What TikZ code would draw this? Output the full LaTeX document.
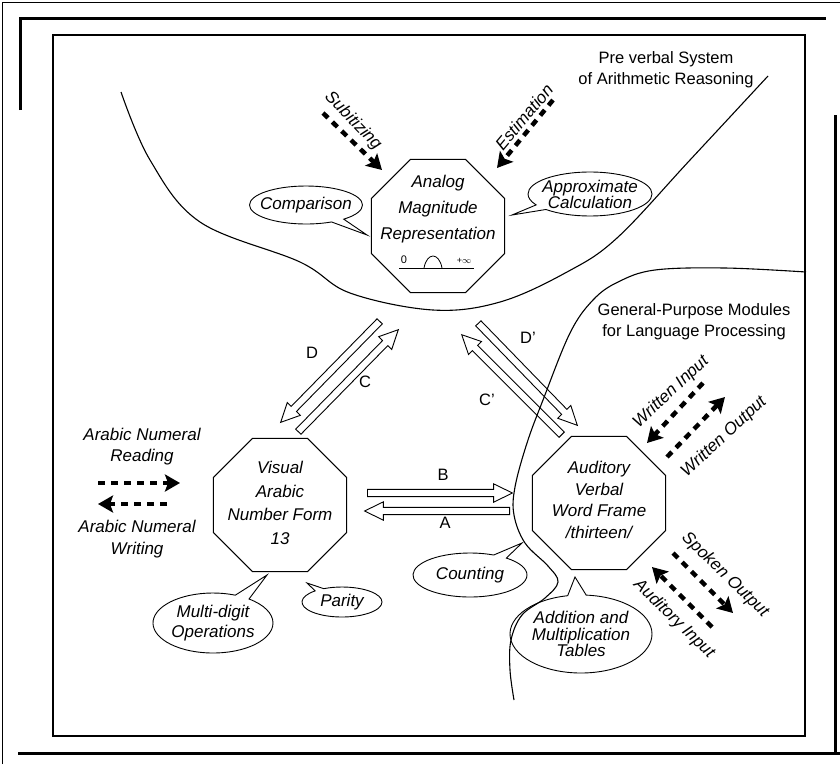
\documentclass[tikz,border=0pt]{standalone}
\usepackage{fontspec}
\setmainfont{Liberation Sans}
\usetikzlibrary{shapes.geometric,shapes.arrows,shapes.callouts,arrows.meta,calc}
\tikzset{
  module/.style={regular polygon,regular polygon sides=8,draw,line width=1pt,minimum size=144pt,inner sep=0pt},
  bubble/.style={ellipse callout,draw,line width=0.9pt,inner sep=0pt},
  lbl/.style={font=\fontsize{17}{21}\selectfont\itshape,align=center,inner sep=0pt},
  tag/.style={font=\fontsize{16.5}{21}\selectfont,align=center,inner sep=0pt},
  route/.style={dash pattern=on 7pt off 6pt,line width=4.5pt,-{Stealth[length=15pt,width=17pt,inset=3pt]}},
  harrow/.style={single arrow,draw,line width=0.9pt,inner xsep=0pt,inner ysep=3.2pt,minimum width=0pt,single arrow head extend=5.5pt,single arrow tip angle=52,single arrow head indent=0pt},
  boundary/.style={line width=1.1pt}
}
\newcommand\hollow[3]{\path let \p1=(#1),\p2=(#2),\n1={atan2(\y2-\y1,\x2-\x1)},\n2={veclen(\x2-\x1,\y2-\y1)} in node[harrow,rotate=\n1,minimum height=\n2,anchor=tail] (#3) at (#1) {};}
\begin{document}
\begin{tikzpicture}[x=1pt,y=-1pt]
\useasboundingbox (0,0) rectangle (840,764);
\draw[line width=0.8pt] (2,764) -- (2,2) -- (840,2);
\draw[line width=3pt] (20,110) -- (20,18) -- (826,18);
\draw[line width=3pt] (835,115) -- (835,753);
\draw[line width=3pt] (18,753) -- (840,753);
\draw[line width=1.4pt] (53,35) rectangle (805,736);
\draw[boundary] plot[smooth,tension=0.6] coordinates {(121,92) (150,160) (200,222) (300,262) (350,293) (433,310) (500,302) (567,272) (617,238) (690,160) (768,76)};
\draw[boundary] plot[smooth,tension=0.6] coordinates {(806,272) (725,268) (655,270) (618,282) (593,300) (570,333) (543,400) (527,443) (515,487) (514,515) (525,543) (548,566) (558,582) (545,598) (522,615) (511,640) (510,670) (514,700)};
\node[tag] (pvs) at (666,70) {Pre verbal System\\of Arithmetic Reasoning};
\node[tag] (gpm) at (694,322) {General-Purpose Modules\\for Language Processing};
\node[module] (amr) at (438,226) {};
\node[lbl,font=\fontsize{17}{26}\selectfont\itshape] (amrtext) at (438,209) {Analog\\Magnitude\\Representation};
\draw[line width=0.8pt] (399,268) -- (474,268);
\node[inner sep=0pt,font=\fontsize{11}{11}\selectfont] (zero) at (404,260) {0};
\draw[line width=0.8pt] (424,268) .. controls (427,252) and (439,252) .. (442,268);
\node[inner sep=0pt,font=\fontsize{9}{9}\selectfont] (infty) at (464,261) {+\(\infty\)};
\node[module] (vanf) at (280,505) {};
\node[lbl,font=\fontsize{17}{23.5}\selectfont\itshape] (vanftext) at (280,503) {Visual\\Arabic\\Number Form\\13};
\node[module] (avwf) at (599,503) {};
\node[lbl,font=\fontsize{17}{21.5}\selectfont\itshape] (avwftext) at (599,500) {Auditory\\Verbal\\Word Frame\\/thirteen/};
\node[bubble,minimum width=113pt,minimum height=38pt,callout absolute pointer={(367,235)}] (cmp) at (306,205) {};
\node[lbl] (cmptext) at (cmp.center) {Comparison};
\node[bubble,minimum width=124pt,minimum height=44pt,callout absolute pointer={(512,215)}] (apx) at (590,194) {};
\node[lbl,font=\fontsize{17}{16}\selectfont\itshape] (apxtext) at (apx.center) {Approximate\\Calculation};
\node[bubble,minimum width=120pt,minimum height=60pt,callout absolute pointer={(267,575)}] (mdo) at (213,623) {};
\node[lbl,font=\fontsize{17}{20}\selectfont\itshape] (mdotext) at (mdo.center) {Multi-digit\\Operations};
\node[bubble,minimum width=80pt,minimum height=30pt,callout absolute pointer={(307,583)}] (par) at (342,602) {};
\node[lbl] (partext) at (par.center) {Parity};
\node[bubble,minimum width=114pt,minimum height=44pt,callout absolute pointer={(522,543)}] (cnt) at (470,575) {};
\node[lbl] (cnttext) at (cnt.center) {Counting};
\node[bubble,minimum width=142pt,minimum height=78pt,callout absolute pointer={(575,577)}] (amt) at (581,634) {};
\node[lbl,font=\fontsize{17}{16.5}\selectfont\itshape] (amttext) at (amt.center) {Addition and\\Multiplication\\Tables};
\coordinate (dA) at (380,321); \coordinate (dB) at (281,422);
\coordinate (cA) at (298,432); \coordinate (cB) at (398,330);
\coordinate (dpA) at (478,323); \coordinate (dpB) at (577,425);
\coordinate (cpA) at (562,435); \coordinate (cpB) at (462,335);
\coordinate (bA) at (367,493); \coordinate (bB) at (512,493);
\coordinate (aA) at (510,511); \coordinate (aB) at (365,511);
\hollow{dA}{dB}{arrD}
\hollow{cA}{cB}{arrC}
\hollow{dpA}{dpB}{arrDp}
\hollow{cpA}{cpB}{arrCp}
\hollow{bA}{bB}{arrB}
\hollow{aA}{aB}{arrA}
\node[tag] (labD) at (312,353) {D};
\node[tag] (labC) at (365,382) {C};
\node[tag] (labDp) at (528,338) {D'};
\node[tag] (labCp) at (487,400) {C'};
\node[tag] (labB) at (443,475) {B};
\node[tag] (labA) at (445,523) {A};
\coordinate (subA) at (323,113); \coordinate (subB) at (382,170);
\coordinate (estA) at (553,100); \coordinate (estB) at (497,168);
\coordinate (rdA) at (98,483); \coordinate (rdB) at (180,483);
\coordinate (wrA) at (167,504); \coordinate (wrB) at (98,504);
\coordinate (wiA) at (703,383); \coordinate (wiB) at (647,443);
\coordinate (woA) at (667,457); \coordinate (woB) at (725,397);
\coordinate (soA) at (673,553); \coordinate (soB) at (733,613);
\coordinate (aiA) at (712,627); \coordinate (aiB) at (652,567);
\draw[route] (subA) -- (subB);
\draw[route] (estA) -- (estB);
\draw[route] (rdA) -- (rdB);
\draw[route] (wrA) -- (wrB);
\draw[route] (wiA) -- (wiB);
\draw[route] (woA) -- (woB);
\draw[route] (soA) -- (soB);
\draw[route] (aiA) -- (aiB);
\node[lbl,rotate=-46] (subL) at (353,121) {Subitizing};
\node[lbl,rotate=50] (estL) at (524,117) {Estimation};
\node[lbl] (rdL) at (142,447) {Arabic Numeral\\Reading};
\node[lbl,font=\fontsize{17}{22}\selectfont\itshape] (wrL) at (137,539) {Arabic Numeral\\Writing};
\node[lbl,rotate=43] (wiL) at (671,392) {Written Input};
\node[lbl,rotate=43] (woL) at (724,437) {Written Output};
\node[lbl,rotate=-44] (soL) at (725,575) {Spoken Output};
\node[lbl,rotate=-44] (aiL) at (674,619) {Auditory Input};
\end{tikzpicture}
\end{document}
